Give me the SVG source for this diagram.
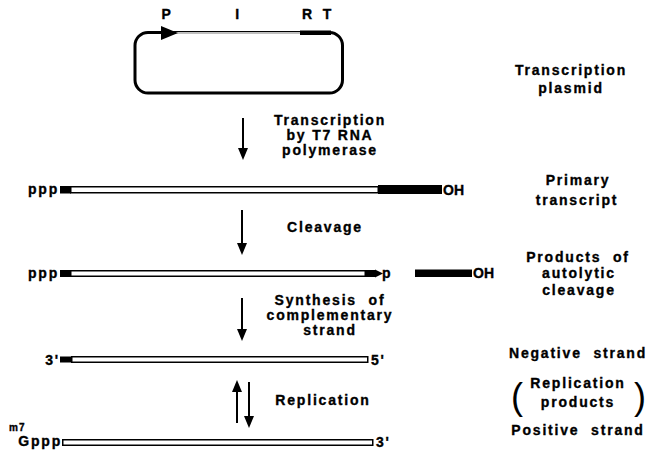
<svg xmlns="http://www.w3.org/2000/svg" width="646" height="455" viewBox="0 0 646 455">
<style>
.t{font-family:"Liberation Sans",Arial,sans-serif;font-weight:bold;font-size:14px;letter-spacing:1.8px;fill:#000;stroke:#000;stroke-width:0.35}
.m{text-anchor:middle}
.e{text-anchor:end}
.oh{font-family:"Liberation Sans",Arial,sans-serif;font-weight:bold;font-size:14px;fill:#000;stroke:#000;stroke-width:0.35}
.hollow{fill:#fff;stroke:#000;stroke-width:1.5}
.blk{fill:#000}
.arr{stroke:#000;stroke-width:2;fill:none;marker-end:url(#ah)}
.par{font-family:"Liberation Sans",Arial,sans-serif;font-size:36px;fill:#000}
</style>
<defs>
<marker id="ah" viewBox="0 0 12 10" refX="9" refY="5" markerWidth="12" markerHeight="10" markerUnits="userSpaceOnUse" orient="auto">
<path d="M0,0 L12,5 L0,10 z" fill="#000"/>
</marker>
</defs>
<rect width="646" height="455" fill="#fff"/>

<g id="plasmid">
<rect x="135" y="32.5" width="207.5" height="60.5" rx="13" fill="none" stroke="#000" stroke-width="3"/>
<line x1="176" y1="33" x2="300" y2="33" stroke="#fff" stroke-width="1.3"/>
<rect x="300" y="30.5" width="31" height="4.5" class="blk"/>
<path d="M161,26 L178,33 L161,40 z" class="blk"/>
<text class="t m" x="167" y="19">P</text>
<text class="t m" x="238" y="19">I</text>
<text class="t m" x="308" y="19">R</text>
<text class="t m" x="328" y="19">T</text>
</g>

<g id="label-plasmid">
<text class="t m" x="571" y="75">Transcription</text>
<text class="t m" x="571" y="93">plasmid</text>
</g>

<g id="primary-transcript">
<text class="t e" x="59" y="194">ppp</text>
<rect x="60" y="186" width="11" height="7.5" class="blk"/>
<rect x="70.75" y="186.75" width="307.5" height="6" class="hollow"/>
<rect x="378" y="185" width="64" height="9" class="blk"/>
<text class="oh" x="443" y="195">OH</text>
</g>

<g id="label-primary">
<text class="t m" x="578" y="185">Primary</text>
<text class="t m" x="577" y="205">transcript</text>
</g>

<g id="cleavage-products">
<text class="t e" x="59" y="277.5">ppp</text>
<rect x="60" y="270" width="11" height="7" class="blk"/>
<rect x="70.75" y="270.75" width="294.5" height="5.5" class="hollow"/>
<rect x="365" y="270" width="11" height="7" class="blk"/>
<path d="M375,269.5 L383,273.5 L375,277.5 z" class="blk"/>
<text class="oh" x="382" y="277.5">p</text>
<rect x="415" y="269.5" width="57" height="7.5" class="blk"/>
<text class="oh" x="473" y="278">OH</text>
</g>

<g id="label-products">
<text class="t m" x="578" y="262" word-spacing="6">Products of</text>
<text class="t m" x="579" y="278">autolytic</text>
<text class="t m" x="579" y="295">cleavage</text>
</g>

<g id="negative-strand">
<text class="t e" x="60" y="365">3'</text>
<rect x="60" y="356.5" width="12" height="6" class="blk"/>
<rect x="71.75" y="356.75" width="296" height="5.5" class="hollow"/>
<text class="t" x="371" y="365">5'</text>
</g>

<g id="label-negative">
<text class="t m" x="578" y="358" word-spacing="6">Negative strand</text>
</g>

<g id="positive-strand">
<text class="t" x="9" y="431" style="font-size:10px;letter-spacing:1px">m7</text>
<text class="t e" x="62" y="446">Gppp</text>
<rect x="62.75" y="439.75" width="310" height="5.5" class="hollow"/>
<text class="t" x="376" y="447">3'</text>
</g>

<g id="label-positive">
<text class="t m" x="578" y="435" word-spacing="6">Positive strand</text>
</g>

<g id="label-replication-products">
<text class="par" x="511" y="409">(</text>
<text class="par" x="634" y="409">)</text>
<text class="t m" x="578" y="388">Replication</text>
<text class="t m" x="578" y="407">products</text>
</g>

<g id="connectors">
<line class="arr" x1="243" y1="118" x2="243" y2="157"/>
<line class="arr" x1="242" y1="210" x2="242" y2="252"/>
<line class="arr" x1="242" y1="298" x2="242" y2="338"/>
<line class="arr" x1="237" y1="423" x2="237" y2="383"/>
<line class="arr" x1="249" y1="382" x2="249" y2="425"/>
</g>

<g id="connector-labels">
<text class="t m" x="330" y="125">Transcription</text>
<text class="t m" x="330" y="140">by T7 RNA</text>
<text class="t m" x="330" y="155">polymerase</text>
<text class="t m" x="325" y="232">Cleavage</text>
<text class="t m" x="330" y="305" word-spacing="6">Synthesis of</text>
<text class="t m" x="330" y="320">complementary</text>
<text class="t m" x="330" y="335">strand</text>
<text class="t m" x="323" y="405">Replication</text>
</g>
</svg>
